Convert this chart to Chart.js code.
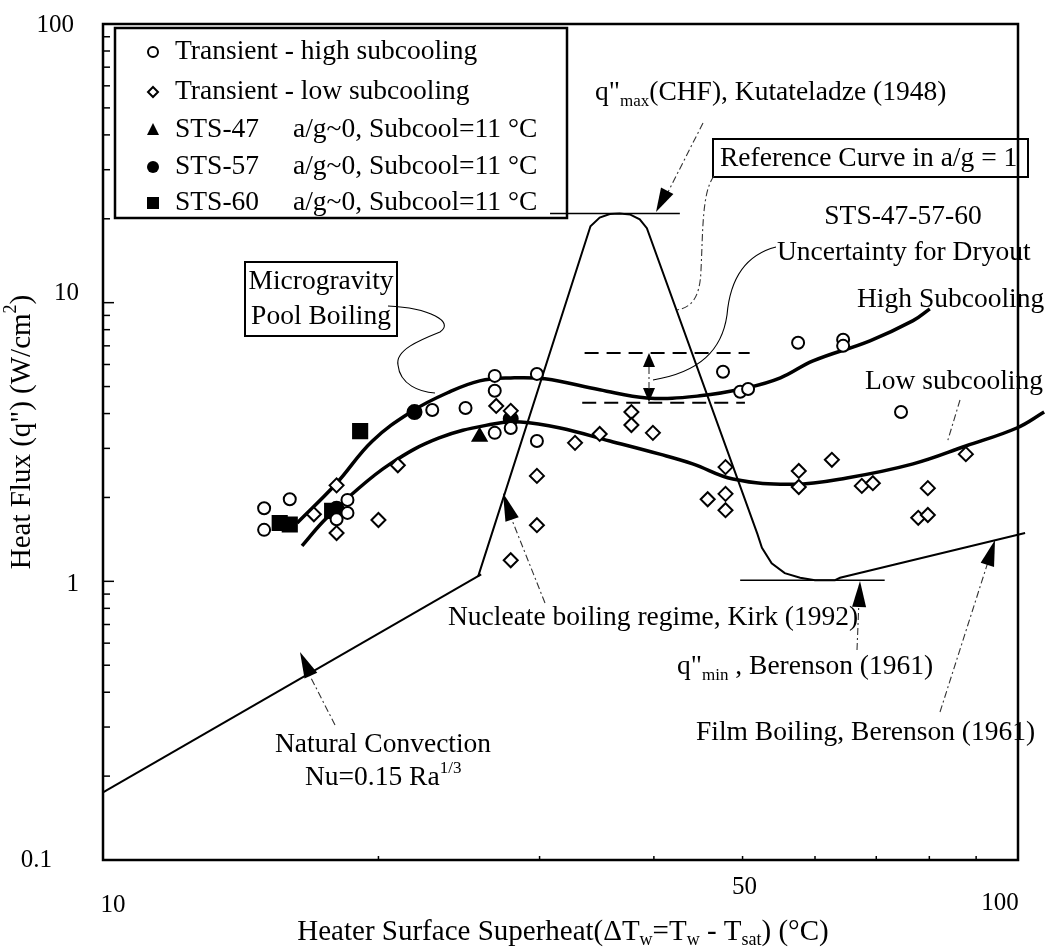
<!DOCTYPE html>
<html>
<head>
<meta charset="utf-8">
<script src="https://cdn.jsdelivr.net/npm/chart.js@4.4.0/dist/chart.umd.min.js"></script>
<style>
  html, body { margin: 0; padding: 0; background: #fff; }
  #wrap { width: 1048px; height: 947px; position: relative; }
</style>
</head>
<body>
<div id="wrap"><canvas id="boiling"></canvas></div>
<script>
// superheat (°C) / heat flux (W/cm2) pairs
const transientHigh = [[15.0,1.83],[15.0,1.53],[16.0,1.97],[18.0,1.67],[18.5,1.96],[18.5,1.76],
  [22.9,4.12],[24.9,4.19],[26.8,5.46],[26.8,4.83],[26.8,3.41],[27.9,3.55],[29.8,5.55],[29.8,3.19],
  [47.6,5.65],[49.7,4.79],[50.7,4.90],[57.5,7.18],[64.4,7.36],[64.4,7.0],[74.5,4.05]];
const transientLow = [[17.0,1.74],[18.0,2.21],[18.0,1.49],[20.0,1.66],[21.0,2.61],[26.9,4.26],
  [27.9,4.09],[29.8,2.39],[29.8,1.59],[27.9,1.19],[32.8,3.14],[34.9,3.38],[37.8,4.05],[37.8,3.64],
  [39.9,3.41],[47.9,2.57],[45.8,1.97],[47.9,2.06],[47.9,1.80],[57.6,2.49],[57.6,2.18],[62.6,2.73],
  [67.5,2.20],[69.4,2.25],[79.7,2.16],[77.8,1.69],[79.7,1.73],[87.7,2.86]];
const sts47 = [[25.8,3.30]];
const sts57 = [[21.9,4.05],[18.0,1.82],[27.9,3.83]];
const sts60 = [[19.1,3.46],[15.6,1.62],[16.0,1.60],[17.8,1.79]];

const highSubCurve = [[16.3,1.62],[18.0,2.25],[19.7,3.19],[21.8,4.09],[23.8,4.75],[25.8,5.24],
  [27.9,5.37],[30.4,5.33],[34.9,4.87],[39.3,4.55],[44.9,4.63],[50.6,4.95],[55.0,5.37],[59.7,6.18],
  [68.9,7.3],[76.8,8.62],[80.1,9.5]];
const lowSubCurve = [[16.5,1.34],[17.4,1.64],[18.6,2.02],[20.6,2.64],[23.3,3.27],[26.7,3.67],
  [28.6,3.73],[31.6,3.55],[35.8,3.19],[40.6,2.86],[44.1,2.64],[48.8,2.33],[56.8,2.23],[65.0,2.35],
  [76.8,2.64],[87.7,3.06],[99.7,3.55],[106.8,4.05]];

// a/g = 1 reference: nucleate rise, CHF peak, transition, film boiling
const refCurve = [[25.7,1.04],[34.1,18.8],[34.9,20.2],[35.8,20.8],[36.7,20.9],[37.7,20.7],[38.6,19.9],
  [39.3,18.5],[51.9,1.48],[52.5,1.32],[53.8,1.16],[55.6,1.07],[57.8,1.03],[60.0,1.01],[63.1,1.01],
  [63.9,1.03],[101.8,1.49]];
const naturalConv = [[10,0.175],[25.9,1.06]];
const chfLine = [[30.8,20.9],[42.7,20.9]];
const qminLine = [[49.7,1.01],[71.5,1.01]];
const dryoutUpper = [[33.6,6.6],[50.9,6.6]];
const dryoutLower = [[33.4,4.37],[50.3,4.37]];

const yTicks = [0.1, 1, 10, 100];
const yTickLabels = ['0.1', '1', '10', '100'];
const xTicks = [10, 50, 100];
const xTickLabels = ['10', '50', '100'];

const serif = '"Liberation Serif", "Times New Roman", serif';
const F = 27.5;
const pts = a => a.map(p => ({x: p[0], y: p[1]}));

function lineSet(data, width, extra) {
  return Object.assign({type: 'line', data: pts(data), borderColor: '#000', borderWidth: width,
    pointRadius: 0, fill: false, tension: 0, clip: false, order: 2}, extra || {});
}
function markSet(data, style, radius, filled) {
  return {type: 'scatter', data: pts(data), pointStyle: style, pointRadius: radius,
    pointBorderWidth: 2, pointBorderColor: '#000',
    pointBackgroundColor: filled ? '#000' : '#fff', order: 0, clip: false};
}

function rich(ctx, parts, x, y, size, align) {
  const fontOf = m => (m === 'n' ? size : Math.round(size * 0.62)) + 'px ' + serif;
  const widths = parts.map(([t, m]) => { ctx.font = fontOf(m); return ctx.measureText(t).width; });
  let cx = align === 'center' ? x - widths.reduce((a, b) => a + b, 0) / 2 : x;
  ctx.textAlign = 'left';
  parts.forEach(([t, m], i) => {
    ctx.font = fontOf(m);
    const dy = m === 'sub' ? size * 0.3 : m === 'sup' ? -size * 0.36 : 0;
    ctx.fillText(t, cx, y + dy);
    cx += widths[i];
  });
}

function arrowHead(ctx, fx, fy, tx, ty, len, half) {
  const a = Math.atan2(ty - fy, tx - fx);
  const bx = tx - len * Math.cos(a), by = ty - len * Math.sin(a);
  ctx.beginPath();
  ctx.moveTo(tx, ty);
  ctx.lineTo(bx + half * Math.sin(a), by - half * Math.cos(a));
  ctx.lineTo(bx - half * Math.sin(a), by + half * Math.cos(a));
  ctx.closePath();
  ctx.fill();
}

function leader(ctx, pts, dashed) {
  ctx.save();
  ctx.lineWidth = 1.1;
  ctx.strokeStyle = '#333';
  if (dashed) ctx.setLineDash([7, 3, 2, 3]);
  ctx.beginPath();
  ctx.moveTo(pts[0][0], pts[0][1]);
  for (let i = 1; i < pts.length; i++) ctx.lineTo(pts[i][0], pts[i][1]);
  ctx.stroke();
  ctx.restore();
}

function legendMark(ctx, kind, x, y) {
  ctx.save();
  ctx.lineWidth = 2;
  ctx.strokeStyle = '#000';
  ctx.fillStyle = '#000';
  ctx.beginPath();
  if (kind === 'circle') { ctx.arc(x, y, 5, 0, Math.PI * 2); ctx.stroke(); }
  if (kind === 'diamond') { ctx.moveTo(x, y - 5); ctx.lineTo(x + 5, y); ctx.lineTo(x, y + 5); ctx.lineTo(x - 5, y); ctx.closePath(); ctx.stroke(); }
  if (kind === 'tri') { ctx.moveTo(x, y - 7); ctx.lineTo(x + 6, y + 5); ctx.lineTo(x - 6, y + 5); ctx.closePath(); ctx.fill(); }
  if (kind === 'dot') { ctx.arc(x, y, 6, 0, Math.PI * 2); ctx.fill(); }
  if (kind === 'square') { ctx.rect(x - 6, y - 6, 12, 12); ctx.fill(); }
  ctx.restore();
}

const decor = {
  id: 'decor',
  afterDraw(chart) {
    const ctx = chart.ctx, a = chart.chartArea;
    const sx = chart.scales.x, sy = chart.scales.y;
    ctx.save();
    ctx.fillStyle = '#000';
    ctx.strokeStyle = '#000';
    ctx.textBaseline = 'middle';

    // frame and ticks
    ctx.lineWidth = 2.5;
    ctx.strokeRect(a.left, a.top, a.right - a.left, a.bottom - a.top);
    ctx.lineWidth = 1.5;
    for (let d = 0.1; d < 150; d *= 10) {
      for (let k = 1; k <= 9; k++) {
        const v = d * k;
        if (v > 100.001) break;
        const y = sy.getPixelForValue(v);
        ctx.beginPath();
        ctx.moveTo(a.left, y);
        ctx.lineTo(a.left + (k === 1 ? 11 : 7), y);
        ctx.stroke();
      }
    }
    for (let k = 2; k <= 9; k++) {
      const x = sx.getPixelForValue(k * 10);
      ctx.beginPath();
      ctx.moveTo(x, a.bottom);
      ctx.lineTo(x, a.bottom - 4);
      ctx.stroke();
    }

    // tick labels
    ctx.font = '25px ' + serif;
    ctx.textAlign = 'right';
    const yOff = [[-27, 0], [0, 3], [0, -9], [-5, 1]];
    yTicks.forEach((v, i) => ctx.fillText(yTickLabels[i], a.left - 24 + yOff[i][0], sy.getPixelForValue(v) + yOff[i][1]));
    ctx.textAlign = 'center';
    const xOff = [[10, 45], [2, 27], [-18, 43]];
    xTicks.forEach((v, i) => ctx.fillText(xTickLabels[i], sx.getPixelForValue(v) + xOff[i][0], a.bottom + xOff[i][1]));

    // axis titles
    rich(ctx, [['Heater Surface Superheat(\u0394T', 'n'], ['w', 'sub'], ['=T', 'n'], ['w', 'sub'],
      [' - T', 'n'], ['sat', 'sub'], [') (\u00B0C)', 'n']], 563, 932, 29, 'center');
    ctx.save();
    ctx.translate(22, 432);
    ctx.rotate(-Math.PI / 2);
    rich(ctx, [['Heat Flux (q") (W/cm', 'n'], ['2', 'sup'], [')', 'n']], 0, 0, 29, 'center');
    ctx.restore();

    // legend box
    ctx.lineWidth = 2.5;
    ctx.strokeRect(115, 28, 452, 190);
    const rows = [52, 92, 130, 167, 203];
    const kinds = ['circle', 'diamond', 'tri', 'dot', 'square'];
    const names = ['Transient - high subcooling', 'Transient - low subcooling', 'STS-47', 'STS-57', 'STS-60'];
    ctx.font = F + 'px ' + serif;
    ctx.textAlign = 'left';
    rows.forEach((y, i) => {
      legendMark(ctx, kinds[i], 153, y);
      ctx.fillText(names[i], 175, y);
      if (i > 1) ctx.fillText('a/g~0, Subcool=11 \u00B0C', 293, y);
    });

    // CHF annotation
    rich(ctx, [['q"', 'n'], ['max', 'sub'], ['(CHF), Kutateladze (1948)', 'n']], 595, 93, F, 'left');
    leader(ctx, [[703, 123], [666, 196]], true);
    arrowHead(ctx, 703, 123, 656, 212, 24, 7);

    // reference curve box
    ctx.lineWidth = 2;
    ctx.strokeRect(713, 139, 315, 38);
    ctx.font = F + 'px ' + serif;
    ctx.fillText('Reference Curve in a/g = 1', 720, 159);
    ctx.save();
    ctx.lineWidth = 1.1; ctx.strokeStyle = '#333'; ctx.setLineDash([7, 3, 2, 3]);
    ctx.beginPath();
    ctx.moveTo(714, 176);
    ctx.bezierCurveTo(702, 192, 703, 230, 701, 270);
    ctx.bezierCurveTo(700, 300, 690, 308, 676, 310);
    ctx.stroke();
    ctx.restore();

    // dryout uncertainty
    ctx.textAlign = 'center';
    ctx.fillText('STS-47-57-60', 903, 217);
    ctx.textAlign = 'left';
    ctx.fillText('Uncertainty for Dryout', 777, 253);
    ctx.save();
    ctx.lineWidth = 1.1;
    ctx.beginPath();
    ctx.moveTo(776, 247);
    ctx.bezierCurveTo(745, 255, 730, 280, 727, 315);
    ctx.bezierCurveTo(722, 350, 700, 372, 653, 380);
    ctx.stroke();
    ctx.restore();
    arrowHead(ctx, 649, 370, 649, 353, 14, 6);
    arrowHead(ctx, 649, 385, 649, 402, 14, 6);
    leader(ctx, [[649, 367], [649, 389]], true);

    ctx.fillText('High Subcooling', 857, 300);
    ctx.fillText('Low subcooling', 865, 382);
    leader(ctx, [[960, 400], [947, 443]], true);

    // microgravity box
    ctx.lineWidth = 2;
    ctx.strokeRect(245, 262, 152, 74);
    ctx.textAlign = 'center';
    ctx.fillText('Microgravity', 321, 282);
    ctx.fillText('Pool Boiling', 321, 317);
    ctx.save();
    ctx.lineWidth = 1.1;
    ctx.beginPath();
    ctx.moveTo(388, 306);
    ctx.bezierCurveTo(430, 308, 455, 322, 440, 332);
    ctx.bezierCurveTo(420, 340, 395, 350, 398, 365);
    ctx.bezierCurveTo(400, 385, 420, 392, 435, 393);
    ctx.stroke();
    ctx.restore();

    // lower annotations
    ctx.textAlign = 'left';
    ctx.fillText('Nucleate boiling regime, Kirk (1992)', 448, 618);
    leader(ctx, [[545, 603], [510, 515]], true);
    arrowHead(ctx, 514, 525, 503, 493, 28, 7);

    rich(ctx, [['q"', 'n'], ['min', 'sub'], [' , Berenson (1961)', 'n']], 677, 667, F, 'left');
    leader(ctx, [[857, 650], [859, 600]], true);
    arrowHead(ctx, 859, 610, 860, 581, 26, 7);

    ctx.font = F + 'px ' + serif;
    ctx.fillText('Film Boiling, Berenson (1961)', 696, 733);
    leader(ctx, [[940, 712], [988, 562]], true);
    arrowHead(ctx, 987, 566, 995, 540, 26, 7);

    ctx.fillText('Natural Convection', 275, 745);
    rich(ctx, [['Nu=0.15 Ra', 'n'], ['1/3', 'sup']], 305, 778, F, 'left');
    leader(ctx, [[335, 725], [308, 672]], true);
    arrowHead(ctx, 312, 678, 300, 652, 26, 7);

    ctx.restore();
  }
};

new Chart(document.getElementById('boiling'), {
  type: 'scatter',
  data: {
    datasets: [
      lineSet(naturalConv, 2),
      lineSet(refCurve, 2),
      lineSet(chfLine, 1.5),
      lineSet(qminLine, 1.5),
      lineSet(dryoutUpper, 2, {borderDash: [14, 8]}),
      lineSet(dryoutLower, 2, {borderDash: [14, 8]}),
      lineSet(highSubCurve, 3.5, {tension: 0.4, order: 1}),
      lineSet(lowSubCurve, 3.5, {tension: 0.4, order: 1}),
      markSet(transientHigh, 'circle', 6, false),
      markSet(transientLow, 'rectRot', 7, false),
      markSet(sts47, 'triangle', 8, true),
      markSet(sts57, 'circle', 7, true),
      markSet(sts60, 'rect', 10, true)
    ]
  },
  options: {
    responsive: true,
    maintainAspectRatio: false,
    animation: false,
    devicePixelRatio: 1,
    layout: {padding: {left: 103, top: 24, right: 30, bottom: 87}},
    scales: {
      x: {type: 'logarithmic', min: 10, max: 100, display: false},
      y: {type: 'logarithmic', min: 0.1, max: 100, display: false}
    },
    plugins: {legend: {display: false}, tooltip: {enabled: false}}
  },
  plugins: [decor]
});
</script>
</body>
</html>
